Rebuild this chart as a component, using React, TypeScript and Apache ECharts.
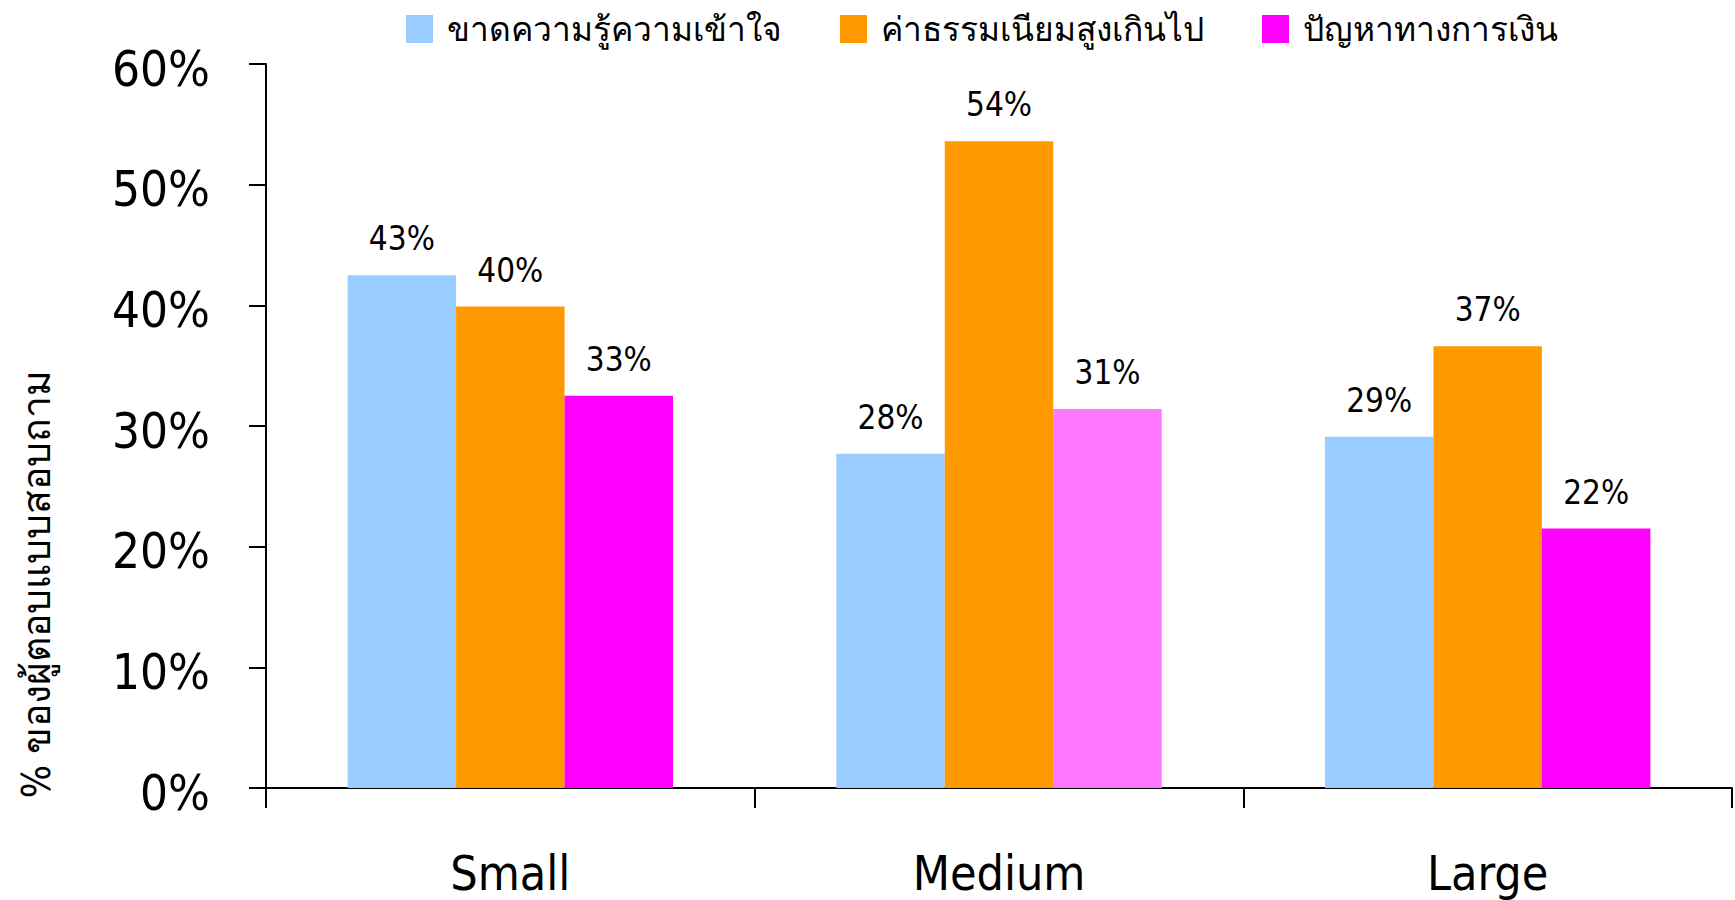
import React, { useEffect, useRef } from "react";
import * as echarts from "echarts";

const categories = ["Small", "Medium", "Large"];
const seriesNames = ["ขาดความรู้ความเข้าใจ", "ค่าธรรมเนียมสูงเกินไป", "ปัญหาทางการเงิน"];
const lackKnowledge = [42.5, 27.7, 29.1];
const highFees = [39.9, 53.6, 36.6];
const financialProblems = [32.5, 31.4, 21.5];
const seriesColors = ["#99CCFF", "#FF9900", "#FF00FF"];
const mediumFinancialColor = "#FF77FF";
const yAxisTitle = "% ของผู้ตอบแบบสอบถาม";

const FONT = "'DejaVu Sans Condensed', 'DejaVu Sans', 'Noto Sans', sans-serif";

export default function App() {
  const ref = useRef<HTMLDivElement>(null);
  useEffect(() => {
    if (!ref.current) return;
    const chart = echarts.init(ref.current, null, { renderer: "svg" });
    const label = {
      show: true,
      position: "top",
      distance: 20,
      fontFamily: FONT,
      fontSize: 33,
      color: "#000",
      formatter: (p: any) => Math.round(p.value) + "%",
    };
    const dataSets = [
      lackKnowledge,
      highFees,
      financialProblems.map((v, i) =>
        i === 1 ? { value: v, itemStyle: { color: mediumFinancialColor } } : v
      ),
    ];
    chart.setOption({
      animation: false,
      backgroundColor: "#fff",
      textStyle: { fontFamily: FONT },
      legend: {
        left: 401,
        top: 7,
        itemWidth: 27,
        itemHeight: 28,
        itemGap: 58,
        icon: "rect",
        textStyle: { fontFamily: FONT, fontSize: 33.5, color: "#000", padding: [0, 0, 0, 9] },
        data: seriesNames,
      },
      grid: { left: 266, right: 3, top: 64, bottom: 112, containLabel: false },
      xAxis: {
        type: "category",
        data: categories,
        axisLine: { lineStyle: { color: "#000", width: 2 } },
        axisTick: { show: true, length: 20, lineStyle: { color: "#000", width: 2 } },
        axisLabel: { color: "#000", fontSize: 48, fontFamily: FONT, margin: 61 },
      },
      yAxis: {
        type: "value",
        min: 0,
        max: 60,
        interval: 10,
        splitLine: { show: false },
        axisLine: { show: true, lineStyle: { color: "#000", width: 2 } },
        axisTick: { show: true, length: 17, lineStyle: { color: "#000", width: 2 } },
        axisLabel: {
          color: "#000",
          fontSize: 49,
          fontFamily: FONT,
          margin: 56,
          formatter: (v: number) => `{t|${v}%}`,
          rich: {
            t: {
              fontSize: 49,
              fontFamily: FONT,
              color: "#000",
              padding: [10, 0, 0, 0],
            },
          },
        },
      },
      graphic: [
        {
          type: "text",
          x: 36,
          y: 584,
          rotation: Math.PI / 2,
          style: {
            text: yAxisTitle,
            fontFamily: FONT,
            fontSize: 39,
            fill: "#000",
            align: "center",
            verticalAlign: "middle",
          },
        },
      ],
      series: seriesNames.map((name, i) => ({
        name,
        type: "bar",
        data: dataSets[i],
        barGap: "0%",
        barCategoryGap: "33.4%",
        itemStyle: { color: seriesColors[i] },
        label,
      })),
    });
    return () => chart.dispose();
  }, []);
  return (
    <div
      ref={ref}
      style={{ position: "fixed", left: 0, top: 0, width: 1735, height: 900 }}
    />
  );
}
